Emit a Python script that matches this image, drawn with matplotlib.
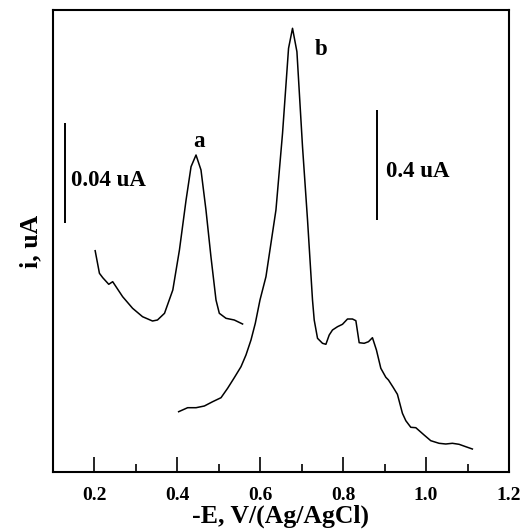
import matplotlib
matplotlib.use("Agg")
import matplotlib.pyplot as plt
from matplotlib.ticker import MultipleLocator, NullLocator

# Potential (-E, V vs Ag/AgCl) and current (arbitrary units) for trace a
E_a = [0.2017, 0.212, 0.220, 0.2345, 0.244, 0.252, 0.268, 0.292, 0.316, 0.340,
       0.352, 0.369, 0.389, 0.405, 0.421, 0.433, 0.445, 0.457, 0.469, 0.481,
       0.4932, 0.5012, 0.5173, 0.5373, 0.5573]
i_a = [221.3, 198.7, 194.3, 187.7, 190.3, 185.3, 175.3, 163.7, 155.3, 151.0,
       152.0, 158.7, 182.0, 222.0, 272.0, 305.3, 317.0, 302.0, 262.0, 215.3,
       172.0, 158.7, 153.7, 152.0, 148.0]

# Trace b
E_b = [0.4031, 0.4248, 0.4451, 0.4651, 0.4851, 0.5053, 0.5212, 0.5373, 0.5535, 0.5655,
       0.5776, 0.5880, 0.5993, 0.6137, 0.6378, 0.6537, 0.6682, 0.6778, 0.6884, 0.7019,
       0.7140, 0.7260, 0.7301, 0.7381, 0.7501, 0.7583, 0.7663, 0.7742, 0.7863, 0.7983,
       0.8104, 0.8224, 0.8306, 0.8386, 0.8506, 0.8610, 0.8706, 0.8802, 0.8908, 0.9029,
       0.9092, 0.9205, 0.9308, 0.9429, 0.9511, 0.9631, 0.9752, 0.9952, 1.0113, 1.0313,
       1.0475, 1.0634, 1.0795, 1.0957, 1.1116]
i_b = [60.3, 64.3, 64.3, 66.0, 70.3, 74.3, 83.7, 94.3, 105.3, 117.0,
       132.0, 148.7, 172.0, 195.3, 262.0, 338.7, 423.7, 443.7, 420.3, 325.3,
       252.0, 172.0, 152.0, 133.7, 128.7, 127.7, 137.0, 142.0, 145.3, 147.7,
       153.0, 153.0, 151.3, 129.3, 128.7, 130.3, 134.3, 122.0, 103.7, 94.7,
       92.0, 84.7, 77.7, 58.7, 51.3, 44.7, 44.3, 37.0, 31.3, 28.7,
       28.0, 28.7, 27.7, 25.3, 23.0]

# Scale bars: (potential, bottom, top) and their labels
bar_a = (0.130, 248.7, 348.7)
bar_b = (0.8827, 252.0, 362.0)
bar_a_label = "0.04 uA"
bar_b_label = "0.4 uA"

plt.rcParams["font.family"] = ["Liberation Serif", "DejaVu Serif"]
plt.rcParams["font.weight"] = "bold"

fig = plt.figure(figsize=(5.29, 5.31), dpi=100)
ax = fig.add_axes([53 / 529, 59 / 531, 456 / 529, 462 / 531])

ax.plot(E_a, i_a, color="black", lw=1.1)
ax.plot(E_b, i_b, color="black", lw=1.1)

for (x, y0, y1) in (bar_a, bar_b):
    ax.plot([x, x], [y0, y1], color="black", lw=1.4, solid_capstyle="butt")

ax.text(0.1439, 292, bar_a_label, fontsize=16.5, fontweight="bold", va="center", ha="left")
ax.text(0.903, 300.3, bar_b_label, fontsize=16.5, fontweight="bold", va="center", ha="left")
ax.text(0.453, 330.3, "a", fontsize=16.5, fontweight="bold", ha="center", va="center")
ax.text(0.7463, 422.7, "b", fontsize=16.5, fontweight="bold", ha="center", va="center")

ax.set_xlim(0.1, 1.2)
ax.set_ylim(0, 462)
ax.xaxis.set_major_locator(MultipleLocator(0.2))
ax.xaxis.set_minor_locator(MultipleLocator(0.1))
ax.yaxis.set_major_locator(NullLocator())
ax.tick_params(axis="x", which="major", direction="in", length=11, width=1.2,
               labelsize=14, pad=11)
ax.tick_params(axis="x", which="minor", direction="in", length=6, width=1.2)
ax.set_xticks([0.2, 0.4, 0.6, 0.8, 1.0, 1.2])
ax.set_xticklabels(["0.2", "0.4", "0.6", "0.8", "1.0", "1.2"], fontweight="bold")
for s in ax.spines.values():
    s.set_linewidth(1.5)

ax.set_xlabel("-E, V/(Ag/AgCl)", fontsize=18.5, fontweight="bold", labelpad=0)
ax.set_ylabel("i, uA", fontsize=18.5, fontweight="bold", labelpad=8)

fig.savefig("out.png", dpi=100)
